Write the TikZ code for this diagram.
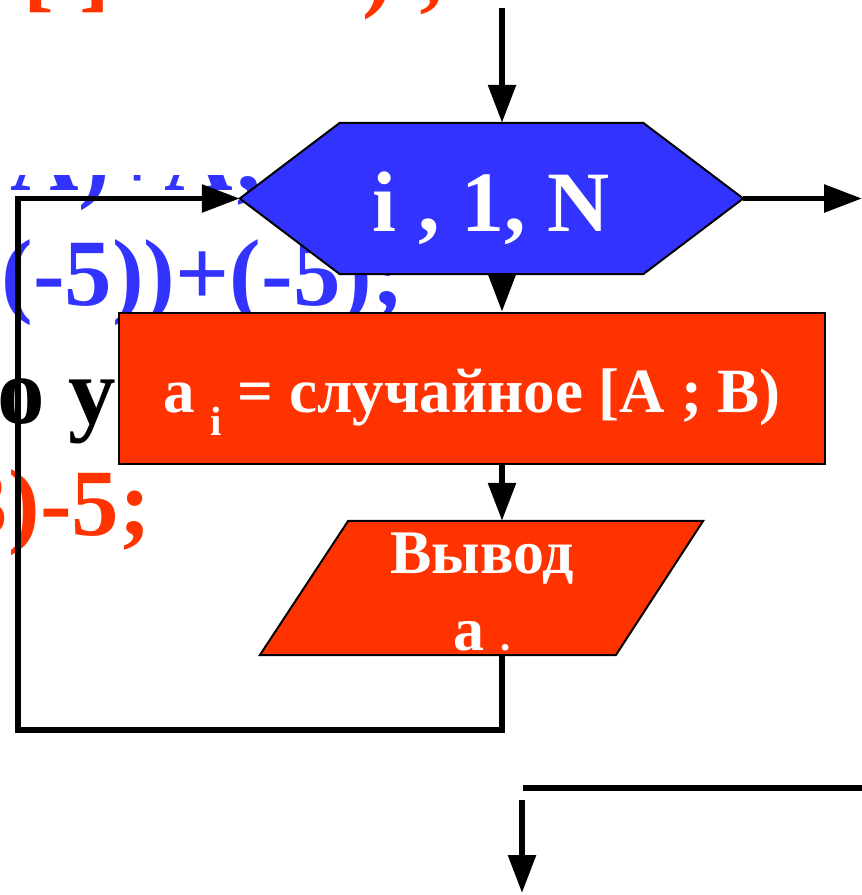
\documentclass[tikz,border=0pt]{standalone}
\usepackage{fontspec}
\setmainfont{Liberation Serif}
\usetikzlibrary{arrows.meta,calc}
\definecolor{flowblue}{HTML}{3333FF}
\definecolor{flowred}{HTML}{FF3300}
\begin{document}
\begin{tikzpicture}[x=1pt,y=-1pt,
  conn/.style={line width=5.8pt},
  arr/.style={conn,-{Triangle[length=38pt,width=27pt]}},
  shapeline/.style={draw=black,line width=2pt},
  bgtext/.style={inner sep=0pt,font=\fontsize{95}{110}\selectfont\bfseries},
  toptext/.style={inner sep=0pt,font=\fontsize{92}{110}\selectfont\bfseries},
  intext/.style={inner sep=0pt,text=white}]
\useasboundingbox (0,0) rectangle (862,895);
\clip (0,0) rectangle (862,895);
% background slide text (partly hidden)
\node[toptext,text=flowred,anchor=base west] (r1a) at (-23,0) {a[i]};
\node[toptext,text=flowred,anchor=base east] (r1b) at (447,0) {) ;};
\node[bgtext,text=flowblue,anchor=base east] (b1) at (265,190) {a[i]:=random(B-A)+A;};
\fill[white] (0,24) rectangle (340,175);
\node[bgtext,text=flowblue,anchor=base east] (b2) at (404,305) {a[i]:=random(10-(-5))+(-5);};
\node[bgtext,text=black,anchor=base west] (k3) at (-3,423) {о у};
\node[bgtext,text=flowred,anchor=base east] (r4) at (151,535) {a[i]:=random(13)-5;};
% flowchart shapes
\node[minimum width=503pt,minimum height=151pt,inner sep=0pt] (hex) at (491.5,198.5) {};
\filldraw[fill=flowblue,shapeline] (hex.west) -- ($(hex.north west)+(100,0)$) -- ($(hex.north east)+(-100,0)$) -- (hex.east) -- ($(hex.south east)+(-100,0)$) -- ($(hex.south west)+(100,0)$) -- cycle;
\node[intext,anchor=base,font=\fontsize{86}{86}\selectfont\bfseries] (hext) at (491,231) {i , 1, N};
\node[draw=black,fill=flowred,line width=2.5pt,minimum width=706pt,minimum height=151pt,inner sep=0pt] (calc) at (472,388.5) {};
\node[intext,anchor=base,font=\fontsize{63}{63}\selectfont\bfseries] (calct) at (472,412) {a \raisebox{-23pt}{\fontsize{41}{41}\selectfont i} = случайное [A ; B)};
\node[minimum width=443pt,minimum height=134pt,inner sep=0pt] (out) at (481.5,588) {};
\filldraw[fill=flowred,shapeline] (out.south west) -- ++(356,0) -- (out.north east) -- ++(-355,0) -- cycle;
\node[intext,anchor=base,font=\fontsize{62}{62}\selectfont\bfseries] (outt1) at (482,573) {Вывод};
\node[intext,anchor=base,font=\fontsize{62}{62}\selectfont\bfseries] (outt2) at (482,650) {a {\fontsize{41}{41}\selectfont .}};
% connectors
\coordinate (topend) at (502,8);
\coordinate (loopbr) at (502,730);
\coordinate (loopbl) at (18,730);
\coordinate (looptl) at (18,198.5);
\coordinate (exitend) at (862,198.5);
\draw[arr] (topend) -- (topend |- hex.north);
\draw[arr] (topend |- hex.south) -- (topend |- calc.north);
\draw[arr] (topend |- calc.south) -- (topend |- out.north);
\draw[arr] (topend |- out.south) -- (loopbr) -- (loopbl) -- (looptl) -- (hex.west);
\draw[arr] (hex.east) -- (exitend);
\coordinate (nextl) at (523,788);
\coordinate (nextr) at (862,788);
\draw[conn] (nextl) -- (nextr);
\coordinate (downs) at (522,800);
\coordinate (downe) at (522,893);
\draw[arr] (downs) -- (downe);
\end{tikzpicture}
\end{document}
